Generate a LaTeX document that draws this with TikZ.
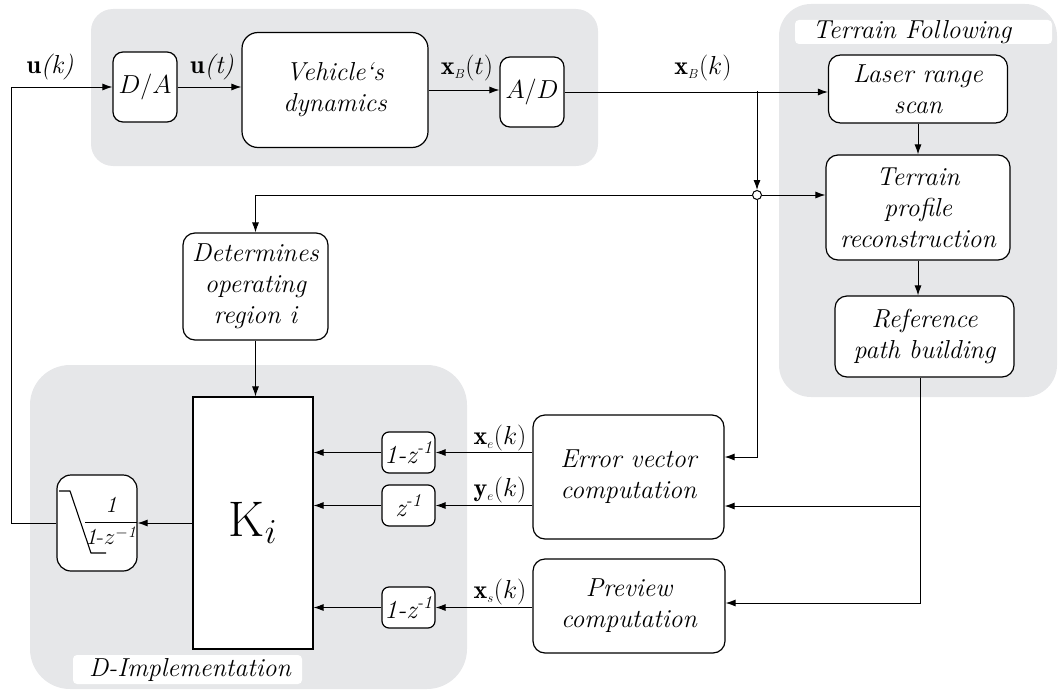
\RequirePackage{fix-cm}
\documentclass[tikz,border=0pt]{standalone}
\usepackage{amsmath}
\usepackage{fontspec}
\usetikzlibrary{arrows.meta}
\definecolor{panel}{RGB}{230,231,233}
\newcommand\txt{\fontsize{26}{31}\selectfont\itshape}
\newcommand\mtxt{\fontsize{26}{31}\selectfont}
\tikzset{
 blk/.style={draw, rounded corners=12pt, fill=white, line width=1.2pt, align=center, font=\txt, inner sep=0pt},
 sblk/.style={blk, rounded corners=7pt, minimum width=53pt, minimum height=41pt},
 arr/.style={-{Latex[length=10pt,width=7pt]}, line width=0.95pt},
 lbl/.style={font=\mtxt, inner sep=0pt},
 pnl/.style={fill=panel, draw=none},
 tag/.style={fill=white, draw=none, rounded corners=4pt},
}
\begin{document}
\begin{tikzpicture}[x=1pt,y=-1pt]
\useasboundingbox (0,0) rectangle (1059,693);
% panels
\fill[pnl, rounded corners=22pt] (91,9) rectangle (598,166);
\fill[pnl, rounded corners=32pt] (779,4) rectangle (1057,397);
\fill[pnl, rounded corners=40pt] (30,365) rectangle (467,689);
\fill[tag] (795,20) rectangle (1052,44);
\node[lbl, font=\txt\addfontfeature{LetterSpace=16}] (tf) at (912,32) {Terrain Following};
\fill[tag] (73,655) rectangle (302,684);
\node[lbl, font=\txt] (di) at (190,670) {D-Implementation};
% blocks
\node[blk, rounded corners=10pt, minimum width=64pt, minimum height=70pt] (DA) at (145,87) {$D/A$};
\node[blk, rounded corners=16pt, minimum width=186pt, minimum height=115pt] (VD) at (335,90) {Vehicle`s\\dynamics};
\node[blk, rounded corners=10pt, minimum width=64pt, minimum height=70pt] (AD) at (532,92) {$A/D$};
\node[blk, minimum width=179pt, minimum height=68pt] (LRS) at (918,89) {Laser range\\scan};
\node[blk, minimum width=184pt, minimum height=105pt] (TPR) at (918,207.5) {Terrain\\profile\\reconstruction};
\node[blk, minimum width=179pt, minimum height=81pt] (RPB) at (924.5,336.5) {Reference\\path building};
\node[blk, minimum width=145pt, minimum height=107pt] (DOR) at (255.5,286.5) {Determines\\operating\\region i};
\node[draw, fill=white, line width=1.1pt, minimum width=120pt, minimum height=252pt, inner sep=0pt,
      font=\fontsize{50}{60}\selectfont] (K) at (253,523) {$\mathrm{K}_i$};
\node[sblk] (D1) at (408.5,452.5) {1-z\textsuperscript{-1}};
\node[sblk] (D2) at (408.5,505.5) {z\textsuperscript{-1}};
\node[sblk] (D3) at (408.5,607.5) {1-z\textsuperscript{-1}};
\node[blk, minimum width=191pt, minimum height=124pt] (EVC) at (628.5,477) {Error vector\\computation};
\node[blk, minimum width=192pt, minimum height=94pt] (PC) at (629,606) {Preview\\computation};
\node[blk, rounded corners=14pt, minimum width=80pt, minimum height=96pt] (INT) at (97,523) {};
\draw[line width=1.1pt] (59,491) -- (70,491) -- (91,553) -- (106,553);
\node[lbl, font=\fontsize{23}{27}\selectfont] (frac) at (111,521)
  {$\dfrac{\mathit{1}}{\mathit{1}\text{-}z^{\mathit{-1}}}$};
\node[circle, draw, fill=white, line width=1pt, minimum size=9pt, inner sep=0pt] (J) at (757,195) {};
% labels
\node[lbl] (luk) at (50,67) {$\mathbf{u}$\textit{(k)}};
\node[lbl] (lut) at (212,67) {$\mathbf{u}$\textit{(t)}};
\node[lbl] (lxbt) at (467,68) {$\mathbf{x}_{\scriptscriptstyle B}(t)$};
\node[lbl] (lxbk) at (703,68) {$\mathbf{x}_{\scriptscriptstyle B}(k)$};
\node[lbl] (lxe) at (500,438) {$\mathbf{x}_{\scriptscriptstyle e}(k)$};
\node[lbl] (lye) at (500,490) {$\mathbf{y}_{\scriptscriptstyle e}(k)$};
\node[lbl] (lxs) at (500,592) {$\mathbf{x}_{\scriptscriptstyle s}(k)$};
% coordinates
\coordinate (fbx) at (11,0);
\coordinate (br) at (757,91);
\coordinate (rbx) at ([xshift=-4pt]RPB.south);
\coordinate (e1) at ([yshift=20pt]EVC.east);
\coordinate (e2) at ([yshift=-29pt]EVC.east);
\coordinate (p1) at ([yshift=3pt]PC.east);
% connectors
\draw[arr] (INT.west) -- (INT.west -| fbx) |- (DA.west);
\draw[arr] (DA.east) -- (DA.east -| VD.west);
\draw[arr] (VD.east) -- (VD.east -| AD.west);
\draw[arr] (AD.east) -- (AD.east -| LRS.west);
\draw[arr] (br) -- (J.north);
\draw[arr] (J.east) -- (J -| TPR.west);
\draw[arr] (J.west) -| (DOR.north);
\draw[arr] (J.south) |- (e1);
\draw[arr] (LRS.south) -- (LRS.south |- TPR.north);
\draw[arr] (TPR.south) -- (TPR.south |- RPB.north);
\draw[arr] (rbx) |- (p1);
\draw[arr] (rbx |- e2) -- (e2);
\draw[arr] (EVC.west |- D1.east) -- (D1.east);
\draw[arr] (EVC.west |- D2.east) -- (D2.east);
\draw[arr] (PC.west |- D3.east) -- (D3.east);
\draw[arr] (D1.west) -- (D1.west -| K.east);
\draw[arr] (D2.west) -- (D2.west -| K.east);
\draw[arr] (D3.west) -- (D3.west -| K.east);
\draw[arr] (K.west |- INT.east) -- (INT.east);
\draw[arr] (DOR.south) -- (DOR.south |- K.north);
\end{tikzpicture}
\end{document}
